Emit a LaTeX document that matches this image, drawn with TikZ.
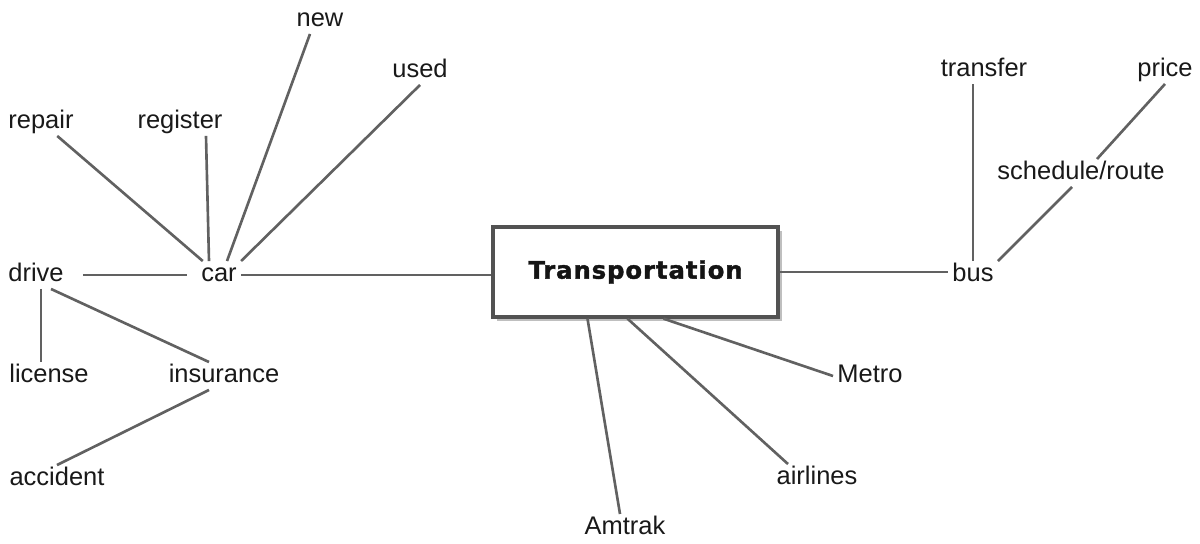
\documentclass[tikz,border=0pt]{standalone}
\usetikzlibrary{calc,shadows}
\usepackage{fontspec}
\setmainfont{Liberation Sans}
\newfontfamily\titlefont{DejaVu Sans}[LetterSpace=4, BoldFeatures={FakeBold=1.6}]

\begin{document}
\begin{tikzpicture}[x=0.02cm, y=-0.02cm,
	word/.style={inner xsep=2.3pt, inner ysep=1pt, text height=10.5pt, text depth=3pt,
		text=black!90, font=\fontsize{14.5}{17}\selectfont},
	link/.style={draw=black!62, line width=1.5pt},
	hub/.style={draw=black!68, line width=1.9pt, fill=white, minimum width=5.7cm, minimum height=1.8cm,
		font=\titlefont\bfseries\fontsize{13.8}{16}\selectfont, text=black!92,
		drop shadow={shadow xshift=2.2pt, shadow yshift=-2.2pt, fill=black, opacity=.25},
		drop shadow={shadow xshift=1.2pt, shadow yshift=-1.2pt, fill=black, opacity=.35}}]

% frame %{{{1

	\useasboundingbox (0,0) rectangle (1200,544);

% centre %{{{1

	\node[hub] (root) at (635.5,272) {Transportation};

% car branch %{{{1

	\node[word] (car)      at (219,275) {car};
	\node[word] (drive)    at (36,275)  {drive};
	\node[word] (repair)   at (41,122)  {repair};
	\node[word] (register) at (180,122) {register};
	\node[word] (new)      at (320,20)  {new};
	\node[word] (used)     at (420,71)  {used};
	\node[word] (license)  at (49,376)  {license};
	\node[word] (insur)    at (224,376) {insurance};
	\node[word] (accident) at (57,479)  {accident};

% bus branch %{{{1

	\node[word] (bus)      at (973,275)  {bus};
	\node[word] (transfer) at (984,70)   {transfer};
	\node[word] (price)    at (1165,70)  {price};
	\node[word] (sched)    at (1081,173) {schedule/route};

% lower branch %{{{1

	\node[word] (metro)    at (870,376) {Metro};
	\node[word] (airlines) at (817,478) {airlines};
	\node[word] (amtrak)   at (625,528) {Amtrak};

% links %{{{1

	\draw[link] (car.east) -- (car.east -| root.west);
	\draw[link] (root.east) -- (root.east -| bus.west);

	\draw[link, shorten <=0.3cm, shorten >=0.2cm] (drive) -- (car);
	\draw[link] (repair) -- (car);
	\draw[link] ($(register.south)+(26,0)$) -- ($(car.north)+(-10,0)$);
	\draw[link] ($(new.south)+(-10,0)$) -- ($(car.north)+(8,0)$);
	\draw[link] (used.south) -- (car.north east);

	\draw[link] ($(drive.south)+(5,0)$) -- ($(license.north)+(-8,0)$);
	\draw[link] ($(drive.south)+(15,0)$) -- ($(insur.north)+(-15,0)$);
	\draw[link] ($(insur.south)+(-15,0)$) -- (accident.north);

	\draw[link] (bus.north) -- (bus.north |- transfer.south);
	\draw[link] (bus.north east) -- ($(sched.south)+(-9,0)$);
	\draw[link] ($(sched.north)+(16,0)$) -- (price.south);

	\draw[link] ($(root.south)+(-48,0)$) -- ($(amtrak.north)+(-5,0)$);
	\draw[link] ($(root.south)+(-8,0)$) -- ($(airlines.north)+(-29,0)$);
	\draw[link] ($(root.south)+(28,0)$) -- (metro.west);

% closing %{{{1

\end{tikzpicture}
\end{document}
